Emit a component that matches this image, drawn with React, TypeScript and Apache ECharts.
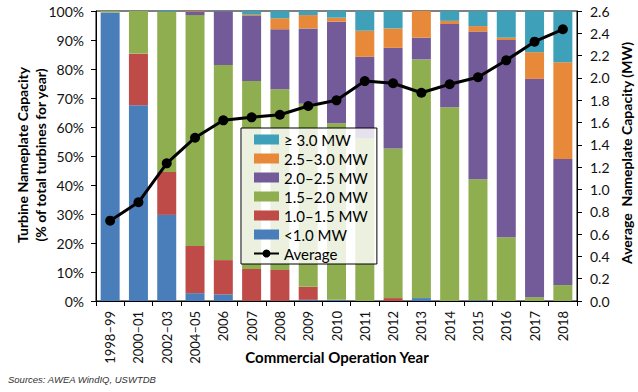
import React, { useEffect, useRef } from "react";
import * as echarts from "echarts";

const categories = ["1998–99", "2000–01", "2002–03", "2004–05", "2006", "2007", "2008", "2009", "2010", "2011", "2012", "2013", "2014", "2015", "2016", "2017", "2018"];

const under10 = [99.5, 67.5, 29.7, 2.7, 2.3, 0, 0, 0.4, 0.4, 0, 0, 1.0, 0, 0.3, 0, 0, 0];
const from10to15 = [0, 17.8, 14.8, 16.3, 11.8, 11.0, 10.7, 4.5, 0, 0, 1.0, 0, 0, 0, 0, 0, 0];
const from15to20 = [0.5, 14.7, 55.2, 79.6, 67.3, 64.9, 62.3, 63.1, 60.9, 56.2, 51.6, 82.3, 66.8, 41.7, 22.0, 1.3, 5.5];
const from20to25 = [0, 0, 0, 1.2, 18.5, 22.4, 20.7, 26.0, 35.0, 28.0, 34.7, 7.5, 28.7, 50.9, 68.0, 75.3, 43.5];
const from25to30 = [0, 0, 0, 0.2, 0, 0.4, 3.8, 4.6, 1.4, 9.0, 6.7, 9.2, 1.1, 1.9, 0.8, 9.2, 33.3];
const over30 = [0, 0, 0.3, 0, 0.1, 1.3, 2.5, 1.4, 2.3, 6.8, 6.0, 0, 3.4, 5.2, 9.2, 14.2, 17.7];
const averageMW = [0.72, 0.885, 1.234, 1.464, 1.62, 1.647, 1.67, 1.748, 1.799, 1.972, 1.952, 1.867, 1.943, 2.006, 2.158, 2.325, 2.436];

const seriesNames = ["<1.0 MW", "1.0–1.5 MW", "1.5–2.0 MW", "2.0–2.5 MW", "2.5–3.0 MW", "≥ 3.0 MW"];
const seriesData = [under10, from10to15, from15to20, from20to25, from25to30, over30];
const seriesColors = ["#4A7EBB", "#BE4B48", "#8FAE4F", "#735A99", "#E8893A", "#3FA0BA"];

const FONT = "Lato, 'Noto Sans', sans-serif";

export default function App() {
  const ref = useRef<HTMLDivElement>(null);
  useEffect(() => {
    if (!ref.current) return;
    const chart = echarts.init(ref.current, undefined, { renderer: "svg" });
    const bars = seriesNames.map((name, i) => ({
      name,
      type: "bar",
      stack: "share",
      barWidth: 19,
      yAxisIndex: 0,
      data: seriesData[i],
      itemStyle: { color: seriesColors[i] },
      z: 2,
    }));
    chart.setOption({
      animation: false,
      textStyle: { fontFamily: FONT },
      grid: { left: 96, right: 61, top: 11, bottom: 91, show: true, borderColor: "#000", borderWidth: 1, backgroundColor: "transparent" },
      legend: {
        orient: "vertical",
        left: 241,
        top: 128,
        padding: [3, 9, 2, 12],
        itemWidth: 25,
        itemHeight: 10,
        itemGap: 2,
        backgroundColor: "rgba(255,255,255,0.82)",
        borderColor: "#000",
        borderWidth: 1,
        borderRadius: 0,
        textStyle: { fontFamily: FONT, fontSize: 15, color: "#000", lineHeight: 17 },
        data: [
          { name: "≥ 3.0 MW", icon: "rect" },
          { name: "2.5–3.0 MW", icon: "rect" },
          { name: "2.0–2.5 MW", icon: "rect" },
          { name: "1.5–2.0 MW", icon: "rect" },
          { name: "1.0–1.5 MW", icon: "rect" },
          { name: "<1.0 MW", icon: "rect" },
          { name: "Average" },
        ],
      },
      xAxis: {
        type: "category",
        data: categories,
        axisLine: { lineStyle: { color: "#000", width: 1 } },
        axisTick: { show: true, length: 5, lineStyle: { color: "#000" } },
        axisLabel: { rotate: 90, margin: 10, fontSize: 13, color: "#111", fontFamily: FONT },
      },
      yAxis: [
        {
          type: "value",
          min: 0,
          max: 100,
          interval: 10,
          axisLine: { show: true, lineStyle: { color: "#000" } },
          axisTick: { show: true, length: 5, lineStyle: { color: "#000" } },
          splitLine: { show: false },
          axisLabel: { formatter: "{value}%", margin: 12, fontSize: 14, color: "#111", fontFamily: FONT },
        },
        {
          type: "value",
          min: 0,
          max: 2.6,
          interval: 0.2,
          position: "right",
          axisLine: { show: true, lineStyle: { color: "#000" } },
          axisTick: { show: true, length: 5, lineStyle: { color: "#000" } },
          splitLine: { show: false },
          axisLabel: { formatter: (v: number) => v.toFixed(1), margin: 13, fontSize: 14, color: "#111", fontFamily: FONT },
        },
      ],
      series: [
        ...bars,
        {
          name: "Average",
          type: "line",
          yAxisIndex: 1,
          data: averageMW,
          symbol: "circle",
          symbolSize: 10,
          lineStyle: { color: "#000", width: 3 },
          itemStyle: { color: "#000" },
          z: 5,
        },
      ],
      graphic: [
        {
          type: "text",
          x: 31,
          y: 155,
          rotation: Math.PI / 2,
          style: {
            text: "Turbine Nameplate Capacity\n(% of total turbines for year)",
            font: "bold 14px " + FONT,
            fill: "#000",
            textAlign: "center",
            textVerticalAlign: "middle",
            lineHeight: 18,
          },
        },
        {
          type: "text",
          x: 626,
          y: 153,
          rotation: Math.PI / 2,
          style: {
            text: "Average  Nameplate Capacity (MW)",
            font: "bold 14px " + FONT,
            fill: "#000",
            textAlign: "center",
            textVerticalAlign: "middle",
          },
        },
        {
          type: "text",
          x: 337,
          y: 357,
          style: {
            text: "Commercial Operation Year",
            font: "bold 15px " + FONT,
            fill: "#000",
            textAlign: "center",
            textVerticalAlign: "middle",
          },
        },
        {
          type: "text",
          x: 8,
          y: 379,
          style: {
            text: "Sources: AWEA WindIQ, USWTDB",
            font: "italic 9.5px 'Liberation Sans', Arial, sans-serif",
            fill: "#333",
            textAlign: "left",
            textVerticalAlign: "middle",
          },
        },
      ],
    });
    return () => chart.dispose();
  }, []);
  return <div ref={ref} style={{ position: "absolute", left: 0, top: 0, width: 638, height: 392, background: "#fff" }} />;
}
